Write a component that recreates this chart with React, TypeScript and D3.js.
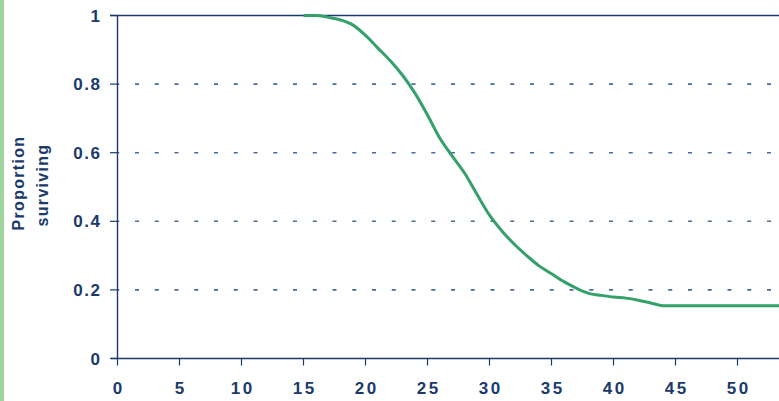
import React from "react";
import * as d3 from "d3";

const ages = [15,16,17,18,19,20,21,22,23,24,25,26,27,28,29,30,31,32,33,34,35,36,37,38,39,40,41,42,43,44,45,46,47,48,49,50,51,52,53,54,55];
const surviving = [1.0,1.0,0.995,0.987,0.972,0.942,0.905,0.868,0.825,0.773,0.71,0.642,0.59,0.54,0.478,0.418,0.372,0.333,0.3,0.27,0.247,0.224,0.205,0.19,0.184,0.179,0.176,0.17,0.162,0.154,0.154,0.154,0.154,0.154,0.154,0.154,0.154,0.154,0.154,0.154,0.154];
const xTicks = [0,5,10,15,20,25,30,35,40,45,50];
const yTicks = [0,0.2,0.4,0.6,0.8,1];
const yGrid = [0.2,0.4,0.6,0.8];

const W = 779, H = 401;
const navy = "#1b3a6b";
const green = "#34a06a";

export default function App() {
  const x = d3.scaleLinear().domain([0, 55]).range([117.5, 117.5 + 55 * 12.4]);
  const y = d3.scaleLinear().domain([0, 1]).range([358.5, 15.5]);
  const line = d3.line<number>()
    .x((_, i) => x(ages[i]))
    .y((d) => y(d))
    .curve(d3.curveMonotoneX);
  const x0 = x(0);
  const font = "'Liberation Sans', Arial, sans-serif";
  return (
    <svg width={W} height={H} style={{ position: "absolute", left: 0, top: 0, display: "block" }}>
      <rect x={0} y={0} width={W} height={H} fill="#ffffff" />
      <rect x={0} y={0} width={4} height={H} fill="#9fd49c" />
      {yGrid.map((v) => (
        <line key={v} x1={x0} x2={W} y1={y(v)} y2={y(v)} stroke="#4a6a98" strokeWidth={1.6}
          strokeDasharray="4,15.75" strokeDashoffset={2.25} />
      ))}
      <line x1={110} x2={W} y1={y(1)} y2={y(1)} stroke={navy} strokeWidth={1.4} />
      <line x1={111} x2={W} y1={y(0)} y2={y(0)} stroke={navy} strokeWidth={1.4} />
      <line x1={x0} x2={x0} y1={y(1)} y2={y(0)} stroke={navy} strokeWidth={1.4} />
      {yTicks.map((v) => (
        <line key={v} x1={110} x2={x0} y1={y(v)} y2={y(v)} stroke={navy} strokeWidth={1.2} />
      ))}
      {xTicks.map((t) => (
        <line key={t} x1={x(t)} x2={x(t)} y1={y(0)} y2={y(0) + 7} stroke={navy} strokeWidth={1.2} />
      ))}
      {yTicks.map((v) => (
        <text key={v} x={100 + 1.5} y={y(v)} dy="0.36em" textAnchor="end" fill={navy}
          fontFamily={font} fontWeight="bold" fontSize={17} letterSpacing={1.5}>
          {v === 0 || v === 1 ? String(v) : v.toFixed(1)}
        </text>
      ))}
      {xTicks.map((t) => (
        <text key={t} x={x(t) + 1.25} y={388} dy="0.36em" textAnchor="middle" fill={navy}
          fontFamily={font} fontWeight="bold" fontSize={17} letterSpacing={2.5}>
          {t}
        </text>
      ))}
      <g transform="translate(18.5,183) rotate(-90)">
        <text x={0} y={0} dy="0.36em" textAnchor="middle" fill={navy} fontFamily={font}
          fontWeight="bold" fontSize={16} letterSpacing={1.3}>Proportion</text>
      </g>
      <g transform="translate(42,185) rotate(-90)">
        <text x={0} y={0} dy="0.36em" textAnchor="middle" fill={navy} fontFamily={font}
          fontWeight="bold" fontSize={16} letterSpacing={1.3}>surviving</text>
      </g>
      <path d={line(surviving) || ""} fill="none" stroke={green} strokeWidth={3} strokeLinejoin="round" />
    </svg>
  );
}
